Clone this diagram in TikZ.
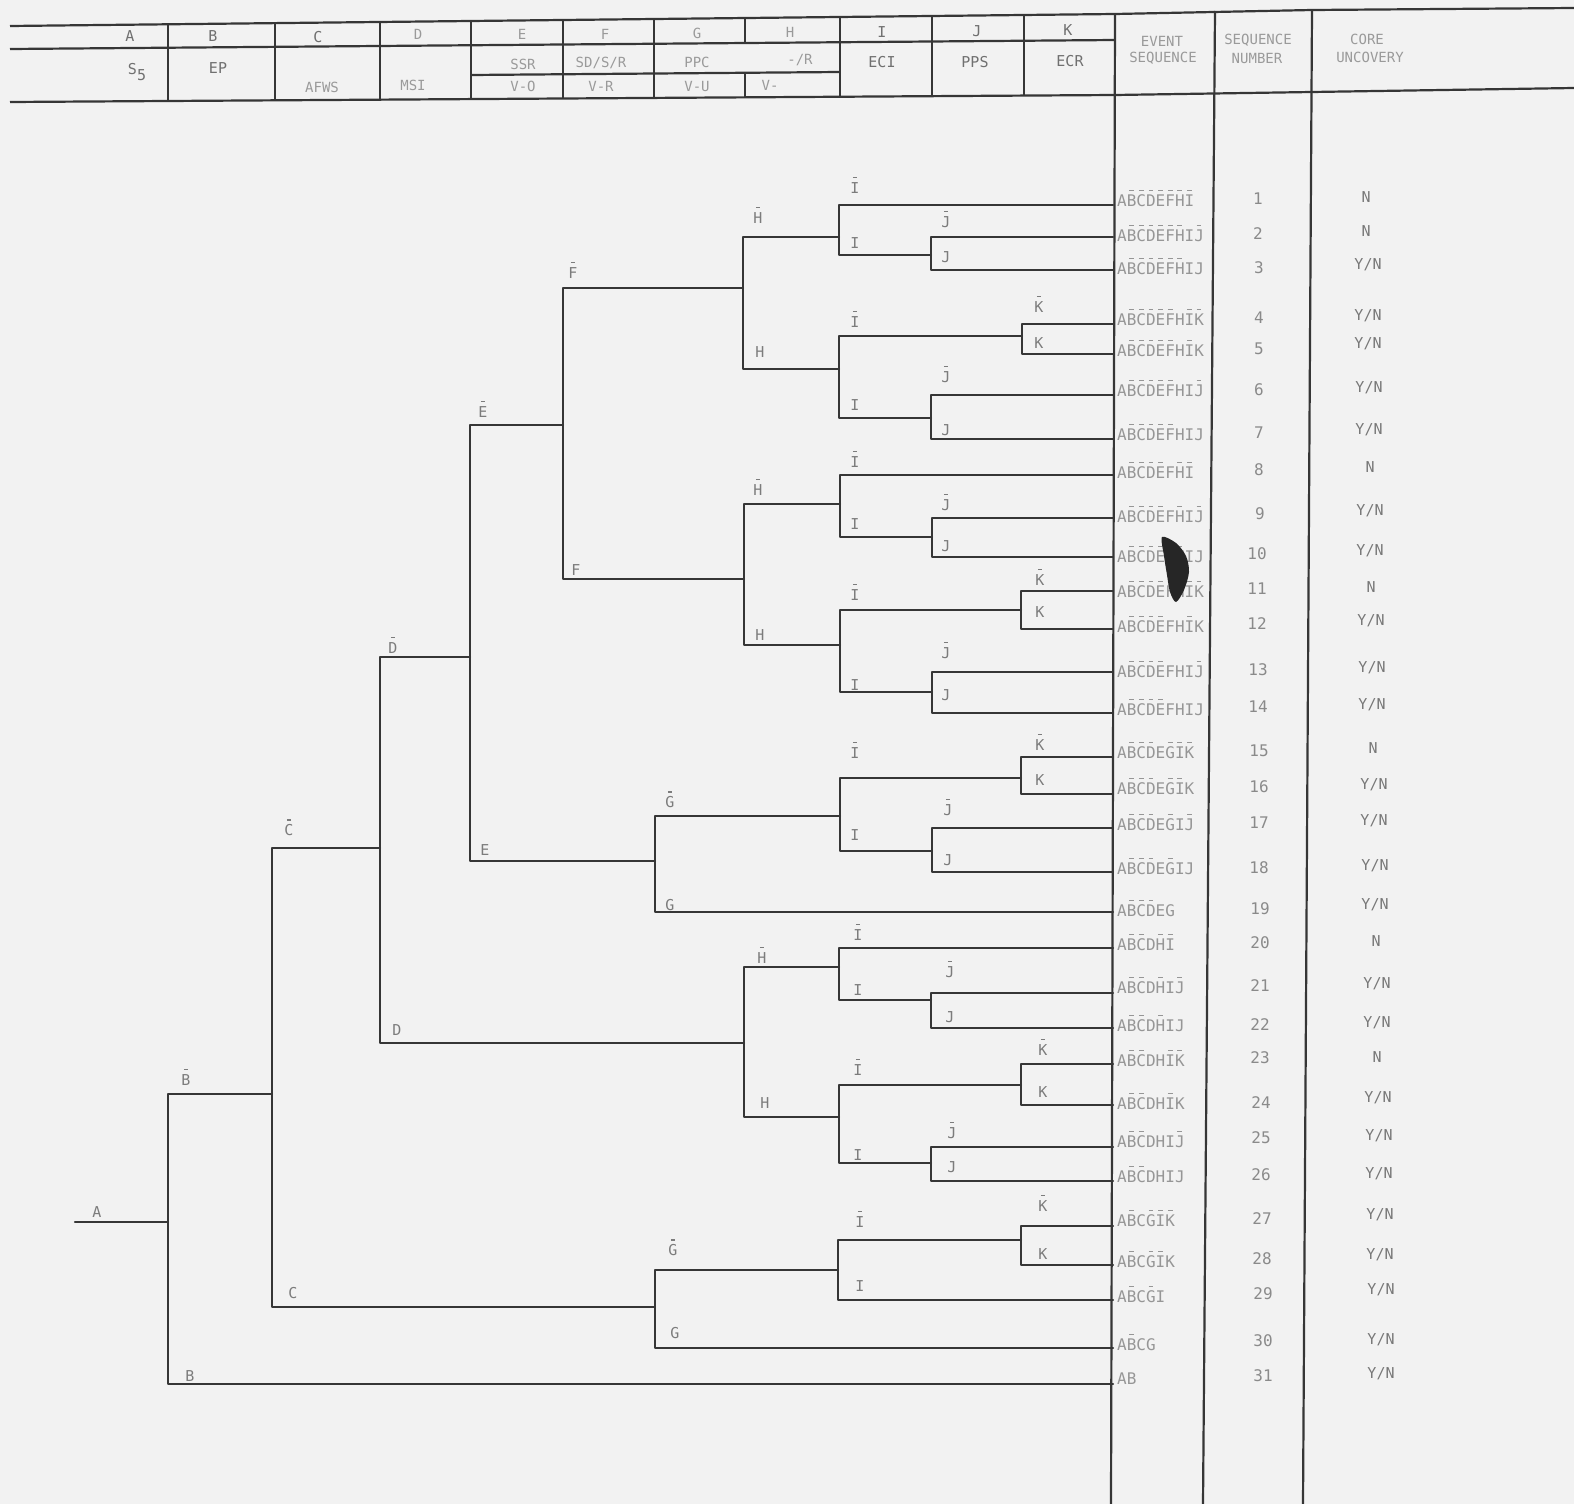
\documentclass[tikz,border=0pt]{standalone}
\usepackage{fontspec}
\newfontfamily\mono{DejaVu Sans Mono}
\definecolor{bgc}{HTML}{F2F2F2}
\definecolor{linec}{HTML}{363636}
\definecolor{hdc}{HTML}{707070}
\definecolor{hdl}{HTML}{9A9A9A}
\definecolor{labc}{HTML}{7C7C7C}
\definecolor{seqc}{HTML}{969696}
\definecolor{numc}{HTML}{8A8A8A}
\definecolor{ync}{HTML}{787878}
\newcommand\ob[1]{\ooalign{#1\cr\hidewidth\raisebox{1.0em}{\rule{0.3em}{0.08em}}\hidewidth\cr}}
\newcommand\YN{Y/N}
\tikzset{
  br/.style={draw=linec, line width=2.2pt, line cap=round, line join=round},
  tbl/.style={draw=linec, line width=2.2pt},
  lab/.style={text=labc, font=\mono\fontsize{15}{15}\selectfont, inner sep=0pt},
  hd/.style={text=hdc, font=\mono\fontsize{15}{15}\selectfont, inner sep=0pt},
  hdf/.style={text=hdl, font=\mono\fontsize{14}{14}\selectfont, inner sep=0pt},
  seqt/.style={text=seqc, font=\mono\fontsize{16}{16}\selectfont, inner sep=0pt, anchor=west},
  numt/.style={text=numc, font=\mono\fontsize{16}{16}\selectfont, inner sep=0pt},
  ynt/.style={text=ync, font=\mono\fontsize{15}{15}\selectfont, inner sep=0pt}
}
\begin{document}
\begin{tikzpicture}[x=1pt,y=-1pt]
\useasboundingbox (0,0) rectangle (1574,1504);
\fill[bgc] (0,0) rectangle (1574,1504);

% ---------- header table ----------
\draw[tbl] (10,26) -- (1115,14) -- (1312,10) -- (1574,8);
\draw[tbl] (10,49) -- (1115,40);
\draw[tbl] (471,75) -- (840,72);
\draw[tbl] (10,102) -- (1115,95) -- (1574,88);
\foreach \x/\t/\b in {168/24.2/101, 275/23/100.3, 380/21.9/99.6, 471/20.9/99, 563/19.9/98.5, 654/18.9/97.9, 840/16.8/96.7, 932/15.8/96.1, 1024/14.8/95.5}
  \draw[tbl] (\x,\t) -- (\x,\b);
\draw[tbl] (745,17.9) -- (745,43);
\draw[tbl] (745,73.5) -- (745,97.3);
% right-hand columns
\draw[tbl] (1115,14) -- (1111,1504);
\draw[tbl] (1215,11) -- (1203,1504);
\draw[tbl] (1312,10) -- (1303,1504);

% header texts
\node[hd] (hA) at (130,36) {A};
\node[hd] (hB) at (213,36) {B};
\node[hd] (hC) at (318,37) {C};
\node[hdf] (hD) at (418,34) {D};
\node[hdf] (hE) at (522,34) {E};
\node[hdf] (hF) at (605,34) {F};
\node[hdf] (hG) at (697,33) {G};
\node[hdf] (hH) at (790,32) {H};
\node[hd] (hI) at (882,32) {I};
\node[hd] (hJ) at (977,31) {J};
\node[hd] (hK) at (1068,30) {K};
\node[hd] (hS) at (137,72) {S\raisebox{-0.4em}{5}};
\node[hd] (hEP) at (218,68) {EP};
\node[hdf] (hAF) at (322,87) {AFWS};
\node[hdf] (hMS) at (413,85) {MSI};
\node[hdf] (hSS) at (523,64) {SSR};
\node[hdf] (hVO) at (523,86) {V-O};
\node[hdf] (hSD) at (601,63) {SD/S/R};
\node[hdf] (hVR) at (601,86) {V-R};
\node[hdf] (hPP) at (697,62) {PPC};
\node[hdf] (hVU) at (697,86) {V-U};
\node[hdf] (hHR) at (800,60) {-/R};
\node[hdf] (hHV) at (770,85) {V-};
\node[hd] (hEC) at (882,62) {ECI};
\node[hd] (hPS) at (975,62) {PPS};
\node[hd] (hER) at (1070,61) {ECR};
\node[hdf] (hEv1) at (1162,41) {EVENT};
\node[hdf] (hEv2) at (1163,58) {SEQUENCE};
\node[hdf] (hSn1) at (1258,40) {SEQUENCE};
\node[hdf] (hSn2) at (1257,58) {NUMBER};
\node[hdf] (hCu1) at (1367,39) {CORE};
\node[hdf] (hCu2) at (1370,57) {UNCOVERY};

% ---------- tree junctions ----------
\coordinate (A0) at (75,1222);
\coordinate (nB) at (168,1222);
\coordinate (nC) at (272,1094);
\coordinate (nD) at (380,848);
\coordinate (nE) at (470,657);
\coordinate (nF) at (563,425);
\coordinate (nH1) at (743,288);
\coordinate (nH2) at (744,579);
\coordinate (nI1) at (839,237);
\coordinate (nI2) at (839,369);
\coordinate (nJ1) at (931,255);
\coordinate (nK1) at (1022,336);
\coordinate (nJ2) at (931,418);
\coordinate (nI3) at (840,504);
\coordinate (nI4) at (840,645);
\coordinate (nJ3) at (932,537);
\coordinate (nK2) at (1021,610);
\coordinate (nJ4) at (932,692);
\coordinate (nG1) at (655,861);
\coordinate (nI5) at (840,816);
\coordinate (nK3) at (1021,778);
\coordinate (nJ5) at (932,851);
\coordinate (nH4) at (744,1043);
\coordinate (nI6) at (839,967);
\coordinate (nJ6) at (931,1000);
\coordinate (nI7) at (839,1117);
\coordinate (nK4) at (1021,1085);
\coordinate (nJ7) at (931,1163);
\coordinate (nG2) at (655,1307);
\coordinate (nI8) at (838,1270);
\coordinate (nK5) at (1021,1240);

% leaves on the event-sequence line
\foreach \n/\y in {1/205,2/237,3/270,4/324,5/354,6/395,7/439,8/475,9/518,10/557,11/591,12/629,13/672,14/713,15/757,16/794,17/828,18/872,19/912,20/948,21/993,22/1028,23/1064,24/1105,25/1147,26/1181,27/1226,28/1265,29/1300,30/1348,31/1384}
  \coordinate (L\n) at (1113,\y);

% ---------- tree branches ----------
\draw[br] (A0) -- (nB);
\draw[br] (nB) |- (nC);  \draw[br] (nB) |- (L31);
\draw[br] (nC) |- (nD);  \draw[br] (nC) |- (nG2);
\draw[br] (nD) |- (nE);  \draw[br] (nD) |- (nH4);
\draw[br] (nE) |- (nF);  \draw[br] (nE) |- (nG1);
\draw[br] (nF) |- (nH1); \draw[br] (nF) |- (nH2);
\draw[br] (nH1) |- (nI1); \draw[br] (nH1) |- (nI2);
\draw[br] (nI1) |- (L1);  \draw[br] (nI1) |- (nJ1);
\draw[br] (nJ1) |- (L2);  \draw[br] (nJ1) |- (L3);
\draw[br] (nI2) |- (nK1); \draw[br] (nI2) |- (nJ2);
\draw[br] (nK1) |- (L4);  \draw[br] (nK1) |- (L5);
\draw[br] (nJ2) |- (L6);  \draw[br] (nJ2) |- (L7);
\draw[br] (nH2) |- (nI3); \draw[br] (nH2) |- (nI4);
\draw[br] (nI3) |- (L8);  \draw[br] (nI3) |- (nJ3);
\draw[br] (nJ3) |- (L9);  \draw[br] (nJ3) |- (L10);
\draw[br] (nI4) |- (nK2); \draw[br] (nI4) |- (nJ4);
\draw[br] (nK2) |- (L11); \draw[br] (nK2) |- (L12);
\draw[br] (nJ4) |- (L13); \draw[br] (nJ4) |- (L14);
\draw[br] (nG1) |- (nI5); \draw[br] (nG1) |- (L19);
\draw[br] (nI5) |- (nK3); \draw[br] (nI5) |- (nJ5);
\draw[br] (nK3) |- (L15); \draw[br] (nK3) |- (L16);
\draw[br] (nJ5) |- (L17); \draw[br] (nJ5) |- (L18);
\draw[br] (nH4) |- (nI6); \draw[br] (nH4) |- (nI7);
\draw[br] (nI6) |- (L20); \draw[br] (nI6) |- (nJ6);
\draw[br] (nJ6) |- (L21); \draw[br] (nJ6) |- (L22);
\draw[br] (nI7) |- (nK4); \draw[br] (nI7) |- (nJ7);
\draw[br] (nK4) |- (L23); \draw[br] (nK4) |- (L24);
\draw[br] (nJ7) |- (L25); \draw[br] (nJ7) |- (L26);
\draw[br] (nG2) |- (nI8); \draw[br] (nG2) |- (L30);
\draw[br] (nI8) |- (nK5); \draw[br] (nI8) |- (L29);
\draw[br] (nK5) |- (L27); \draw[br] (nK5) |- (L28);

% ---------- branch labels ----------
\node[lab] (tA) at (97,1212) {A};
\node[lab] (tBs) at (186,1080) {\ob{B}};  \node[lab] (tBf) at (190,1376) {B};
\node[lab] (tCs) at (289,830) {\ob{C}};   \node[lab] (tCf) at (293,1293) {C};
\node[lab] (tDs) at (393,648) {\ob{D}};   \node[lab] (tDf) at (397,1030) {D};
\node[lab] (tEs) at (483,412) {\ob{E}};   \node[lab] (tEf) at (485,850) {E};
\node[lab] (tFs) at (573,273) {\ob{F}};   \node[lab] (tFf) at (576,570) {F};
\node[lab] (tH1s) at (758,218) {\ob{H}};  \node[lab] (tH1f) at (760,352) {H};
\node[lab] (tI1s) at (855,188) {\ob{I}};  \node[lab] (tI1f) at (855,243) {I};
\node[lab] (tJ1s) at (946,222) {\ob{J}};  \node[lab] (tJ1f) at (946,257) {J};
\node[lab] (tI2s) at (855,322) {\ob{I}};  \node[lab] (tI2f) at (855,405) {I};
\node[lab] (tK1s) at (1039,307) {\ob{K}}; \node[lab] (tK1f) at (1039,343) {K};
\node[lab] (tJ2s) at (946,377) {\ob{J}};  \node[lab] (tJ2f) at (946,430) {J};
\node[lab] (tH2s) at (758,490) {\ob{H}};  \node[lab] (tH2f) at (760,635) {H};
\node[lab] (tI3s) at (855,462) {\ob{I}};  \node[lab] (tI3f) at (855,524) {I};
\node[lab] (tJ3s) at (946,505) {\ob{J}};  \node[lab] (tJ3f) at (946,546) {J};
\node[lab] (tI4s) at (855,595) {\ob{I}};  \node[lab] (tI4f) at (855,685) {I};
\node[lab] (tK2s) at (1040,580) {\ob{K}}; \node[lab] (tK2f) at (1040,612) {K};
\node[lab] (tJ4s) at (946,653) {\ob{J}};  \node[lab] (tJ4f) at (946,695) {J};
\node[lab] (tG1s) at (670,802) {\ob{G}};  \node[lab] (tG1f) at (670,905) {G};
\node[lab] (tI5s) at (855,753) {\ob{I}};  \node[lab] (tI5f) at (855,835) {I};
\node[lab] (tK3s) at (1040,745) {\ob{K}}; \node[lab] (tK3f) at (1040,780) {K};
\node[lab] (tJ5s) at (948,810) {\ob{J}};  \node[lab] (tJ5f) at (948,860) {J};
\node[lab] (tH3s) at (762,958) {\ob{H}};  \node[lab] (tH3f) at (765,1103) {H};
\node[lab] (tI6s) at (858,935) {\ob{I}};  \node[lab] (tI6f) at (858,990) {I};
\node[lab] (tJ6s) at (950,972) {\ob{J}};  \node[lab] (tJ6f) at (950,1017) {J};
\node[lab] (tI7s) at (858,1070) {\ob{I}}; \node[lab] (tI7f) at (858,1155) {I};
\node[lab] (tK4s) at (1043,1050) {\ob{K}};\node[lab] (tK4f) at (1043,1092) {K};
\node[lab] (tJ7s) at (952,1133) {\ob{J}}; \node[lab] (tJ7f) at (952,1167) {J};
\node[lab] (tG2s) at (673,1250) {\ob{G}}; \node[lab] (tG2f) at (675,1333) {G};
\node[lab] (tI8s) at (860,1222) {\ob{I}}; \node[lab] (tI8f) at (860,1286) {I};
\node[lab] (tK5s) at (1043,1206) {\ob{K}};\node[lab] (tK5f) at (1043,1254) {K};

% ---------- event sequences ----------
\node[seqt] (s1) at (1117,201) {A\ob{B}\ob{C}\ob{D}\ob{E}\ob{F}\ob{H}\ob{I}};
\node[seqt] (s2) at (1117,236) {A\ob{B}\ob{C}\ob{D}\ob{E}\ob{F}\ob{H}I\ob{J}};
\node[seqt] (s3) at (1117,269) {A\ob{B}\ob{C}\ob{D}\ob{E}\ob{F}\ob{H}IJ};
\node[seqt] (s4) at (1117,320) {A\ob{B}\ob{C}\ob{D}\ob{E}\ob{F}H\ob{I}\ob{K}};
\node[seqt] (s5) at (1117,351) {A\ob{B}\ob{C}\ob{D}\ob{E}\ob{F}H\ob{I}K};
\node[seqt] (s6) at (1117,391) {A\ob{B}\ob{C}\ob{D}\ob{E}\ob{F}HI\ob{J}};
\node[seqt] (s7) at (1117,435) {A\ob{B}\ob{C}\ob{D}\ob{E}\ob{F}HIJ};
\node[seqt] (s8) at (1117,473) {A\ob{B}\ob{C}\ob{D}\ob{E}F\ob{H}\ob{I}};
\node[seqt] (s9) at (1117,517) {A\ob{B}\ob{C}\ob{D}\ob{E}F\ob{H}I\ob{J}};
\node[seqt] (s10) at (1117,557) {A\ob{B}\ob{C}\ob{D}\ob{E}F\ob{H}IJ};
\node[seqt] (s11) at (1117,592) {A\ob{B}\ob{C}\ob{D}\ob{E}FH\ob{I}\ob{K}};
\node[seqt] (s12) at (1117,627) {A\ob{B}\ob{C}\ob{D}\ob{E}FH\ob{I}K};
\node[seqt] (s13) at (1117,672) {A\ob{B}\ob{C}\ob{D}\ob{E}FHI\ob{J}};
\node[seqt] (s14) at (1117,710) {A\ob{B}\ob{C}\ob{D}\ob{E}FHIJ};
\node[seqt] (s15) at (1117,753) {A\ob{B}\ob{C}\ob{D}E\ob{G}\ob{I}\ob{K}};
\node[seqt] (s16) at (1117,789) {A\ob{B}\ob{C}\ob{D}E\ob{G}\ob{I}K};
\node[seqt] (s17) at (1117,825) {A\ob{B}\ob{C}\ob{D}E\ob{G}I\ob{J}};
\node[seqt] (s18) at (1117,869) {A\ob{B}\ob{C}\ob{D}E\ob{G}IJ};
\node[seqt] (s19) at (1117,911) {A\ob{B}\ob{C}\ob{D}EG};
\node[seqt] (s20) at (1117,945) {A\ob{B}\ob{C}D\ob{H}\ob{I}};
\node[seqt] (s21) at (1117,988) {A\ob{B}\ob{C}D\ob{H}I\ob{J}};
\node[seqt] (s22) at (1117,1026) {A\ob{B}\ob{C}D\ob{H}IJ};
\node[seqt] (s23) at (1117,1061) {A\ob{B}\ob{C}DH\ob{I}\ob{K}};
\node[seqt] (s24) at (1117,1104) {A\ob{B}\ob{C}DH\ob{I}K};
\node[seqt] (s25) at (1117,1142) {A\ob{B}\ob{C}DHI\ob{J}};
\node[seqt] (s26) at (1117,1177) {A\ob{B}\ob{C}DHIJ};
\node[seqt] (s27) at (1117,1221) {A\ob{B}C\ob{G}\ob{I}\ob{K}};
\node[seqt] (s28) at (1117,1262) {A\ob{B}C\ob{G}\ob{I}K};
\node[seqt] (s29) at (1117,1297) {A\ob{B}C\ob{G}I};
\node[seqt] (s30) at (1117,1345) {A\ob{B}CG};
\node[seqt] (s31) at (1117,1379) {AB};

% ink blot
\fill[black!85] plot[smooth cycle] coordinates {(1162,537) (1176,543) (1186,556) (1189,572) (1184,590) (1176,602) (1170,592) (1167,575) (1164,556)};

% ---------- sequence numbers ----------
\foreach \n/\x/\y in {1/1258/199,2/1258/234,3/1259/268,4/1259/318,5/1259/349,6/1259/390,7/1259/433,8/1259/470,9/1260/514,10/1257/554,11/1257/589,12/1257/624,13/1258/670,14/1258/707,15/1259/751,16/1259/787,17/1259/823,18/1259/868,19/1260/909,20/1260/943,21/1260/986,22/1260/1025,23/1260/1058,24/1261/1103,25/1261/1138,26/1261/1175,27/1262/1219,28/1262/1259,29/1263/1294,30/1263/1341,31/1263/1376}
  \node[numt] (q\n) at (\x,\y) {\n};

% ---------- core uncovery ----------
\foreach \n/\x/\y/\v in {1/1366/197/N,2/1366/231/N,3/1368/265/\YN,4/1368/316/\YN,5/1368/344/\YN,6/1369/388/\YN,7/1369/430/\YN,8/1370/467/N,9/1370/511/\YN,10/1370/551/\YN,11/1371/587/N,12/1371/621/\YN,13/1372/668/\YN,14/1372/705/\YN,15/1373/748/N,16/1374/785/\YN,17/1374/821/\YN,18/1375/866/\YN,19/1375/905/\YN,20/1376/941/N,21/1377/984/\YN,22/1377/1023/\YN,23/1377/1057/N,24/1378/1098/\YN,25/1379/1136/\YN,26/1379/1174/\YN,27/1380/1215/\YN,28/1380/1255/\YN,29/1381/1290/\YN,30/1381/1340/\YN,31/1381/1374/\YN}
  \node[ynt] (c\n) at (\x,\y) {\v};
\end{tikzpicture}
\end{document}
